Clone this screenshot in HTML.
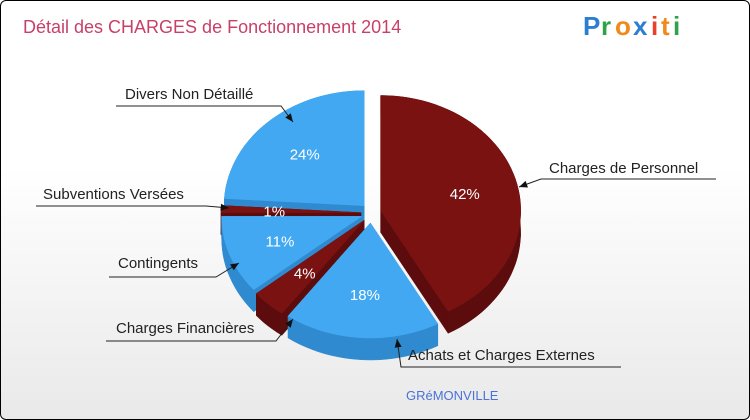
<!DOCTYPE html>
<html><head><meta charset="utf-8"><style>
body{margin:0;background:#fff;}
#c{position:relative;width:748px;height:418px;border:1px solid #000;border-radius:6px;overflow:hidden;background:linear-gradient(#fff,#fff 40%,#e9e9e9);font-family:"Liberation Sans",sans-serif;}
</style></head><body>
<div id="c">
<svg id="s" width="748" height="418" xmlns="http://www.w3.org/2000/svg">
<text x="22" y="32" font-size="18" fill="#c8406a">Détail des CHARGES de Fonctionnement 2014</text>
<g font-size="26" font-weight="bold">
<text x="582" y="34" fill="#2b7fd1">P</text><text x="600" y="34" fill="#2ea44a">r</text><text x="614" y="34" fill="#f08a1c">o</text><text x="632" y="34" fill="#2b7fd1">x</text><text x="650" y="34" fill="#e8402a">i</text><text x="660" y="34" fill="#f08a1c">t</text><text x="672" y="34" fill="#2ea44a">i</text>
</g>
<g id="pie"></g>
<g id="labels" font-size="15" fill="#222"></g>
<text x="405" y="399" font-size="13" fill="#4a72d8">GRéMONVILLE</text>
</svg>
</div>
<script>
const categories=["Charges de Personnel","Achats et Charges Externes","Charges Financières","Contingents","Subventions Versées","Divers Non Détaillé"];
const values=[42,18,4,11,1,24];
const colorsTop=["#7a1212","#42a8f2","#7a1212","#42a8f2","#7a1212","#42a8f2"];
const colorsSide=["#5c0c0c","#2f8ad0","#5c0c0c","#2f8ad0","#5c0c0c","#2f8ad0"];
const NS="http://www.w3.org/2000/svg";
const cx=370,cy=212,rx=140,ry=115,depth=22,ex=10;
const pie=document.getElementById('pie');
const total=values.reduce((a,b)=>a+b,0);
function pt(x0,y0,a,k){return [x0+rx*k*Math.cos(a),y0+ry*k*Math.sin(a)];}
function arc(x0,y0,a0,a1,dy){let p=[];const n=Math.max(2,Math.ceil((a1-a0)/0.05));for(let i=0;i<=n;i++){const a=a0+(a1-a0)*i/n;p.push([x0+rx*Math.cos(a),y0+dy+ry*Math.sin(a)]);}return p;}
function poly(pts,fill,name){const e=document.createElementNS(NS,'path');e.setAttribute('d','M'+pts.map(p=>p[0].toFixed(1)+','+p[1].toFixed(1)).join('L')+'Z');e.setAttribute('fill',fill);e.setAttribute('stroke',fill);e.setAttribute('stroke-width','0.5');


pie.appendChild(e);return e;}
let slices=[],acc=0;
values.forEach((v,i)=>{const a0=-Math.PI/2+acc/total*2*Math.PI;acc+=v;const a1=-Math.PI/2+acc/total*2*Math.PI;const m=(a0+a1)/2;
slices.push({i,a0,a1,m,x0:cx+ex*Math.cos(m),y0:cy+ex*Math.sin(m)});});
[...slices].sort((a,b)=>Math.sin(a.m)-Math.sin(b.m)).forEach(s=>{
 const c=[s.x0,s.y0];
 const q0=pt(s.x0,s.y0,s.a0,1),q1=pt(s.x0,s.y0,s.a1,1);
 poly([c,q0,[q0[0],q0[1]+depth],[c[0],c[1]+depth]],colorsSide[s.i],'slice-wall-'+s.i);
 poly([c,q1,[q1[0],q1[1]+depth],[c[0],c[1]+depth]],colorsSide[s.i],'slice-wall-end-'+s.i);
 const top=arc(s.x0,s.y0,s.a0,s.a1,0),bot=arc(s.x0,s.y0,s.a0,s.a1,depth).reverse();
 poly(top.concat(bot),colorsSide[s.i],'slice-side-'+s.i);
});
slices.forEach(s=>{
 poly([[s.x0,s.y0]].concat(arc(s.x0,s.y0,s.a0,s.a1,0)),colorsTop[s.i],'slice-'+s.i);
 const p=pt(s.x0,s.y0,s.m,0.62);
 const t=document.createElementNS(NS,'text');t.setAttribute('x',p[0]);t.setAttribute('y',p[1]+6);t.setAttribute('text-anchor','middle');t.setAttribute('font-size','15');t.setAttribute('fill','#fff');t.textContent=values[s.i]+'%';
 
 
 pie.appendChild(t);
});
// [text, tx, ty, lineX1, lineY, lineX2, arrowX, arrowY, arrowFrom]
const lab=[["Charges de Personnel",548,172,540,178,715,518,186,'start'],
["Achats et Charges Externes",407,359,400,366,620,396,338,'start'],
["Charges Financières",115,332,105,340,275,292,318,'end'],
["Contingents",117,267,108,276,215,238,262,'end'],
["Subventions Versées",42,198,35,205,205,228,207,'end'],
["Divers Non Détaillé",124,98,115,105,280,292,121,'end']];
const L=document.getElementById('labels');
lab.forEach((l,i)=>{
 const t=document.createElementNS(NS,'text');t.setAttribute('x',l[1]);t.setAttribute('y',l[2]);t.textContent=l[0];
 
 
 L.appendChild(t);
 const sx=l[8]=='end'?l[5]:l[3];
 const ox=l[8]=='end'?l[3]:l[5];
 const pl=document.createElementNS(NS,'polyline');
 pl.setAttribute('points',`${ox},${l[4]} ${sx},${l[4]} ${l[6]},${l[7]}`);
 pl.setAttribute('fill','none');pl.setAttribute('stroke','#222');pl.setAttribute('stroke-width','1');
 
 
 L.appendChild(pl);
 const ax=l[6],ay=l[7],bx=sx,by=l[4];const ang=Math.atan2(ay-by,ax-bx);
 const h=document.createElementNS(NS,'path');
 const p1=[ax-9*Math.cos(ang-0.4),ay-9*Math.sin(ang-0.4)],p2=[ax-9*Math.cos(ang+0.4),ay-9*Math.sin(ang+0.4)];
 h.setAttribute('d',`M${ax},${ay}L${p1[0]},${p1[1]}L${p2[0]},${p2[1]}Z`);h.setAttribute('fill','#111');
 
 
 L.appendChild(h);
});
</script>
</body></html>
